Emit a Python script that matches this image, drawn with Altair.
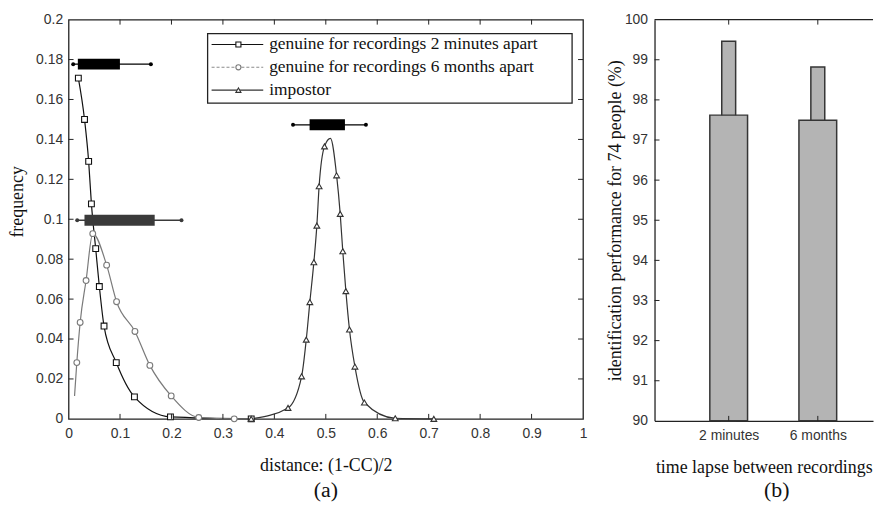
import json
import altair as alt
import pandas as pd

# ---------------- data: panel (a) ----------------
series = [
    "genuine for recordings 2 minutes apart",
    "genuine for recordings 6 months apart",
    "impostor",
]

min2_x = [0.019, 0.031, 0.039, 0.0444, 0.0527, 0.0598, 0.0689, 0.0927, 0.128, 0.198, 0.355]
min2_y = [0.1707, 0.150, 0.129, 0.1077, 0.0853, 0.0663, 0.0465, 0.0282, 0.011, 0.001, 0.0]
min2_marked = [True, True, True, True, True, True, True, True, True, True, True]

m6_x = [0.0116, 0.016, 0.0225, 0.034, 0.047, 0.074, 0.0933, 0.129, 0.158, 0.1995, 0.253, 0.322, 0.355]
m6_y = [0.0115, 0.0282, 0.0483, 0.0693, 0.0928, 0.077, 0.0587, 0.0438, 0.0268, 0.0115, 0.0007, 0.0, 0.0]
m6_marked = [False, True, True, True, True, True, True, True, True, True, True, True, False]

imp_x = [0.355, 0.4266, 0.453, 0.462, 0.469, 0.4768, 0.4826, 0.487, 0.4975, 0.509,
         0.521, 0.528, 0.533, 0.539, 0.546, 0.5566, 0.575, 0.635, 0.71]
imp_y = [0.0, 0.0055, 0.0213, 0.0397, 0.0585, 0.0785, 0.0968, 0.1165, 0.1365, 0.1405,
         0.122, 0.1027, 0.084, 0.064, 0.0448, 0.0262, 0.0082, 0.0003, 0.0]
imp_marked = [True, True, True, True, True, True, True, True, True, False,
              True, True, True, True, True, True, True, True, True]

box_center_y = [0.1777, 0.0995, 0.1473]
whisker_lo = [0.009, 0.0168, 0.4363]
box_lo = [0.018, 0.0309, 0.4685]
box_hi = [0.0998, 0.1674, 0.5372]
whisker_hi = [0.160, 0.2195, 0.578]

x_ticks = [0, 0.1, 0.2, 0.3, 0.4, 0.5, 0.6, 0.7, 0.8, 0.9, 1]
y_ticks = [0, 0.02, 0.04, 0.06, 0.08, 0.1, 0.12, 0.14, 0.16, 0.18, 0.2]

# ---------------- data: panel (b) ----------------
cats = ["2 minutes", "6 months"]
cat_pos = [1, 2]
perf_wide = [97.62, 97.49]
perf_narrow = [99.46, 98.82]
perf_ticks = [90, 91, 92, 93, 94, 95, 96, 97, 98, 99, 100]

# ---------------- styles ----------------
line_colors = ["#111111", "#7a7a7a", "#333333"]
legend_line_colors = ["#111111", "#8a8a8a", "#333333"]
box_colors = ["#000000", "#3a3a3a", "#000000"]
shapes = ["square", "circle", "triangle-up"]
SANS = "Liberation Sans"
SERIF = "Liberation Serif"
AX = "#222222"

LW, LH = 518, 402
RW, RH = 220, 404

rows = []
for name, xs_, ys_, mk in zip(series, [min2_x, m6_x, imp_x], [min2_y, m6_y, imp_y],
                              [min2_marked, m6_marked, imp_marked]):
    for i, (a, b, m) in enumerate(zip(xs_, ys_, mk)):
        rows.append({"series": name, "x": a, "y": b, "marked": m, "order": i})
curves = pd.DataFrame(rows)

boxes = pd.DataFrame({"series": series, "yc": box_center_y, "wlo": whisker_lo,
                      "blo": box_lo, "bhi": box_hi, "whi": whisker_hi})

xs = alt.Scale(domain=[0, 1], nice=False, zero=False)
ys = alt.Scale(domain=[0, 0.2], nice=False, zero=False)

x_axis = alt.Axis(title="distance: (1-CC)/2", values=x_ticks, format="~g", ticks=False,
                  tickSize=0, domain=False, grid=False, labelFont=SANS, labelFontSize=14,
                  labelColor="#333333", labelPadding=8, labelFlush=False, labelOverlap=False,
                  titleFont=SERIF, titleFontSize=18, titleFontWeight="normal",
                  titleColor="#111111", titlePadding=16)
y_axis = alt.Axis(title="frequency", values=y_ticks, format="~g", ticks=False, tickSize=0,
                  domain=False, grid=False, labelFont=SANS, labelFontSize=14,
                  labelColor="#333333", labelPadding=6, labelOverlap=False,
                  titleFont=SERIF, titleFontSize=18, titleFontWeight="normal",
                  titleColor="#111111", titlePadding=9, titleY=183)


def XL(f):
    return alt.X(f, type="quantitative", scale=xs, axis=x_axis)


def YL(f):
    return alt.Y(f, type="quantitative", scale=ys, axis=y_axis)


stroke_enc = alt.Stroke("series:N", scale=alt.Scale(domain=series, range=line_colors), legend=None)
box_color = alt.Color("series:N", scale=alt.Scale(domain=series, range=box_colors), legend=None)

lines = alt.Chart(curves).mark_line(interpolate="monotone", strokeWidth=1.2).encode(
    x=XL("x"), y=YL("y"), stroke=stroke_enc, detail="series:N", order="order:Q")

markers = alt.Chart(curves).transform_filter("datum.marked").mark_point(
    filled=True, fill="white", strokeWidth=1.1, size=34, opacity=1).encode(
    x=XL("x"), y=YL("y"), stroke=stroke_enc,
    shape=alt.Shape("series:N", scale=alt.Scale(domain=series, range=shapes), legend=None))

whiskers = alt.Chart(boxes).mark_rule(strokeWidth=1.4).encode(
    x=XL("wlo"), x2="whi", y=YL("yc"), color=box_color)
boxbars = alt.Chart(boxes).mark_rule(strokeWidth=11, strokeCap="butt").encode(
    x=XL("blo"), x2="bhi", y=YL("yc"), color=box_color)
ends = alt.Chart(boxes).transform_fold(["wlo", "whi"], as_=["k", "v"]).mark_circle(
    size=16, opacity=1).encode(x=XL("v:Q"), y=YL("yc"), color=box_color)

xt = pd.DataFrame({"t": x_ticks[1:-1]})
yt = pd.DataFrame({"t": y_ticks[1:-1]})
tick_style = dict(color=AX, strokeWidth=1)
bt = alt.Chart(xt).mark_rule(**tick_style).encode(x=XL("t"), y=alt.value(LH), y2=alt.value(LH - 5))
tt = alt.Chart(xt).mark_rule(**tick_style).encode(x=XL("t"), y=alt.value(0), y2=alt.value(5))
lt = alt.Chart(yt).mark_rule(**tick_style).encode(y=YL("t"), x=alt.value(0), x2=alt.value(5))
rt = alt.Chart(yt).mark_rule(**tick_style).encode(y=YL("t"), x=alt.value(LW), x2=alt.value(LW - 5))

# legend (drawn inside the plot, like the original)
one = pd.DataFrame({"a": [0]})
leg_layers = [alt.Chart(one).mark_rect(fill="white", stroke=AX, strokeWidth=1.3).encode(
    x=alt.value(140), x2=alt.value(507), y=alt.value(14), y2=alt.value(84))]
row_y = [25, 48, 71]
for i, name in enumerate(series):
    d = pd.DataFrame({"series": [name]})
    rule_kw = dict(color=legend_line_colors[i], strokeWidth=1.1)
    if i == 1:
        rule_kw["strokeDash"] = [3, 2]
    leg_layers.append(alt.Chart(d).mark_rule(**rule_kw).encode(
        x=alt.value(144), x2=alt.value(196), y=alt.value(row_y[i])))
    leg_layers.append(alt.Chart(d).mark_point(shape=shapes[i], filled=True, fill="white",
                                              stroke=line_colors[i], strokeWidth=1.1,
                                              size=26, opacity=1).encode(
        x=alt.value(171), y=alt.value(row_y[i])))
    leg_layers.append(alt.Chart(d).mark_text(font=SERIF, fontSize=17.5, align="left",
                                             baseline="middle", color="#111111").encode(
        x=alt.value(202), y=alt.value(row_y[i]), text="series:N"))

left = alt.layer(lines, markers, whiskers, boxbars, ends, bt, tt, lt, rt, *leg_layers).properties(
    width=LW, height=LH,
    view=alt.ViewBackground(stroke=AX, strokeWidth=1.3),
    title=alt.TitleParams("(a)", orient="bottom", anchor="middle", font=SERIF, fontSize=22,
                          fontWeight="normal", color="#111111", offset=6),
)

# ---------------- panel (b) ----------------
perf = pd.DataFrame({"cat": cats, "pos": cat_pos, "wide": perf_wide, "narrow": perf_narrow})
x0 = 1 - 73 / 94
x1 = x0 + RW / 94
rxs = alt.Scale(domain=[x0, x1], nice=False, zero=False)
rys = alt.Scale(domain=[90, 100], nice=False, zero=False)
rx_axis = alt.Axis(title="time lapse between recordings", values=cat_pos,
                   labelExpr=f"{json.dumps(cats)}[datum.value - 1]", ticks=False, tickSize=0,
                   domain=True, domainColor=AX, domainWidth=1.3, grid=False, labelFont=SANS,
                   labelFontSize=14, labelColor="#333333", labelPadding=8, labelFlush=False,
                   titleFont=SERIF, titleFontSize=18, titleFontWeight="normal",
                   titleColor="#111111", titlePadding=16)
ry_axis = alt.Axis(title="identification performance for 74 people (%)", values=perf_ticks,
                   format="d", ticks=False, tickSize=0, domain=True, domainColor=AX,
                   domainWidth=1.3, grid=False, labelFont=SANS, labelFontSize=14,
                   labelColor="#333333", labelPadding=7, labelOverlap=False,
                   titleFont=SERIF, titleFontSize=18, titleFontWeight="normal",
                   titleColor="#111111", titlePadding=0)


def XR(f):
    return alt.X(f, type="quantitative", scale=rxs, axis=rx_axis)


def YR(f):
    return alt.Y(f, type="quantitative", scale=rys, axis=ry_axis)


bar_style = dict(color="#b4b4b4", stroke="#353535", strokeWidth=1.5)
narrow = alt.Chart(perf).mark_bar(size=14, **bar_style).encode(
    x=XR("pos"), y=YR("narrow"), y2=alt.datum(90))
wide = alt.Chart(perf).mark_bar(size=38, **bar_style).encode(
    x=XR("pos"), y=YR("wide"), y2=alt.datum(90))

pt = pd.DataFrame({"t": perf_ticks[1:-1]})
ct = pd.DataFrame({"t": cat_pos})
r_lt = alt.Chart(pt).mark_rule(**tick_style).encode(y=YR("t"), x=alt.value(0), x2=alt.value(5))
r_tt = alt.Chart(ct).mark_rule(**tick_style).encode(x=XR("t"), y=alt.value(0), y2=alt.value(5))
r_bt = alt.Chart(ct).mark_rule(**tick_style).encode(x=XR("t"), y=alt.value(RH), y2=alt.value(RH - 5))
r_top = alt.Chart(one).mark_rule(color=AX, strokeWidth=1.3).encode(
    x=alt.value(0), x2=alt.value(RW), y=alt.value(0))

right = alt.layer(narrow, wide, r_lt, r_tt, r_bt, r_top).properties(
    width=RW, height=RH,
    view=alt.ViewBackground(stroke="transparent"),
    title=alt.TitleParams("(b)", orient="bottom", anchor="middle", font=SERIF, fontSize=22,
                          fontWeight="normal", color="#111111", offset=4, dx=13),
)

chart = alt.hconcat(left, right, spacing=18).properties(
    padding={"left": 0, "top": 2, "right": 0, "bottom": 0},
    background="white",
)

chart.save("out.html", embed_options={"renderer": "svg", "actions": False})
